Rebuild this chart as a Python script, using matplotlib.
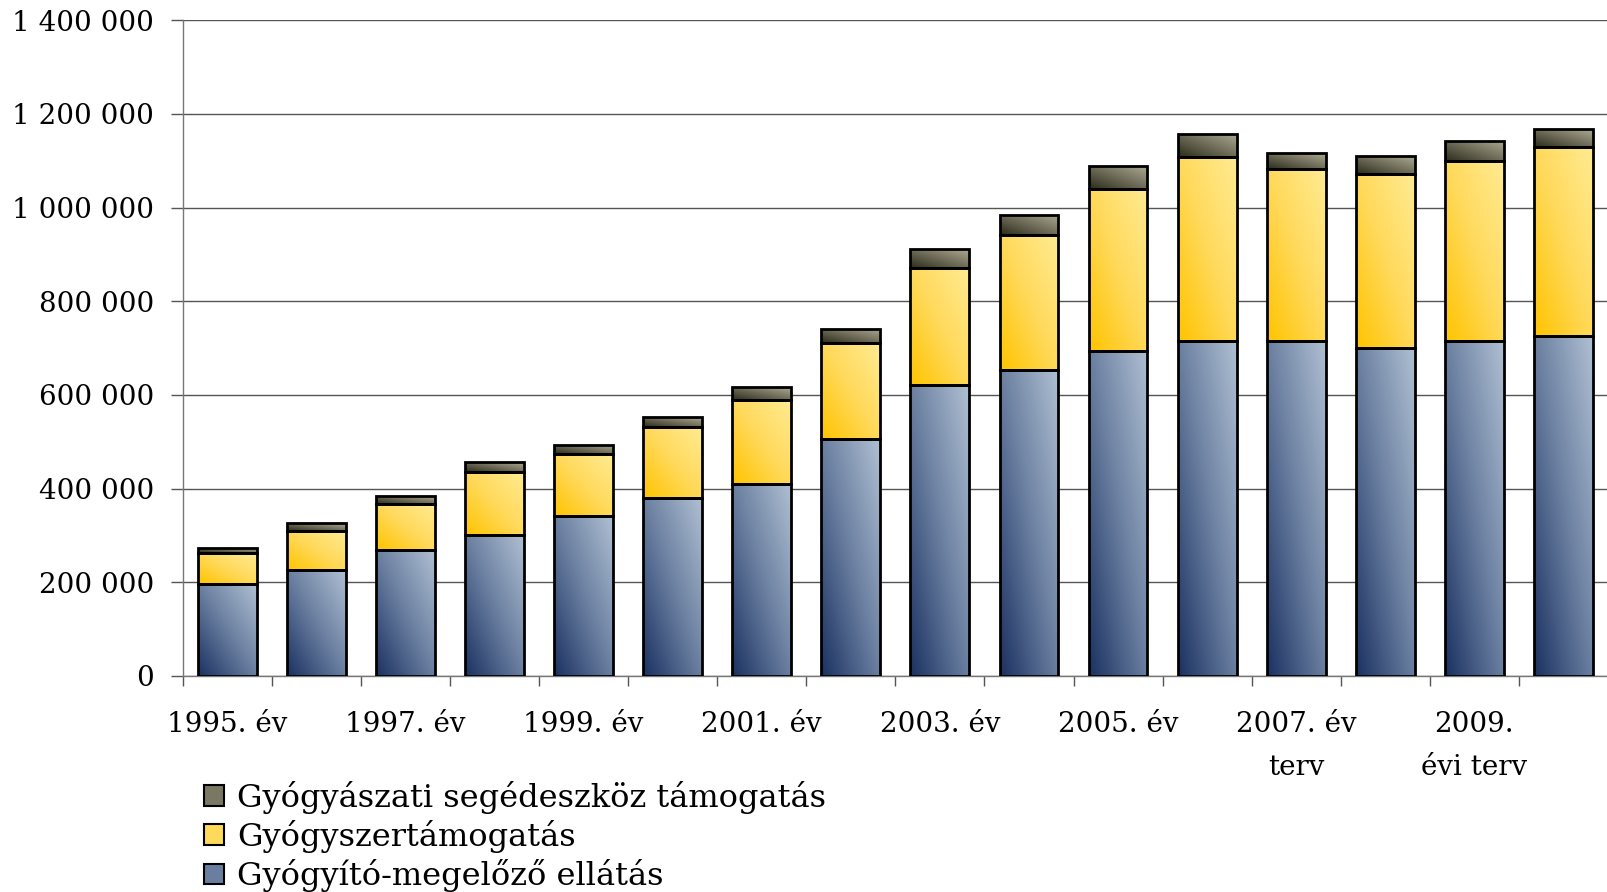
import numpy as np
import matplotlib
matplotlib.use("Agg")
import matplotlib.pyplot as plt
from matplotlib.colors import LinearSegmentedColormap
from matplotlib.patches import Patch

# data (thousand HUF -> stored as plain numbers)
categories = ["1995. év", "1996. év", "1997. év", "1998. év", "1999. év", "2000. év",
              "2001. év", "2002. év", "2003. év", "2004. év", "2005. év", "2006. év",
              "2007. év\nterv", "2008. év\nterv", "2009.\névi terv", "2010.\névi terv"]
ellatas = [196, 226, 268, 300, 342, 379, 410, 505, 621, 653, 694, 716, 716, 700, 716, 726]
gyogyszer = [67, 84, 99, 136, 131, 153, 179, 205, 251, 288, 346, 392, 367, 372, 383, 404]
segedeszkoz = [11, 16, 17, 21, 21, 20, 27, 31, 39, 43, 49, 50, 33, 38, 43, 38]
series_names = ["Gyógyító-megelőző ellátás", "Gyógyszertámogatás",
                "Gyógyászati segédeszköz támogatás"]
yticks = [0, 200000, 400000, 600000, 800000, 1000000, 1200000, 1400000]

plt.rcParams['font.family'] = ['DejaVu Serif']
plt.rcParams['font.size'] = 20

cmaps = [
    LinearSegmentedColormap.from_list("kek", ["#1b3262", "#6a7fa0", "#afbfd2"]),
    LinearSegmentedColormap.from_list("sarga", ["#ffc400", "#ffd95a", "#ffeb93"]),
    LinearSegmentedColormap.from_list("szurke", ["#2c2c1c", "#6e6c58", "#acaa92"]),
]
mid_colors = ["#6a7fa0", "#ffd95a", "#7a7862"]

fig = plt.figure(figsize=(16.08, 8.92), dpi=100)
ax = fig.add_axes([0.1136, 0.2422, 0.8864, 0.735])

x = np.arange(len(categories))
vals = [np.array(ellatas) * 1000, np.array(gyogyszer) * 1000, np.array(segedeszkoz) * 1000]

g = np.linspace(0, 1, 64)
grad = (g[None, :] + g[:, None]) / 2

bottom = np.zeros(len(x))
for v, cm in zip(vals, cmaps):
    bars = ax.bar(x, v, width=0.66, bottom=bottom, facecolor='none',
                  edgecolor='black', linewidth=2.0, zorder=3)
    for b in bars:
        bx, by = b.get_x(), b.get_y()
        im = ax.imshow(grad, extent=[bx, bx + b.get_width(), by, by + b.get_height()],
                       origin='lower', cmap=cm, aspect='auto', zorder=2,
                       interpolation='bilinear')
        im.set_clip_path(b)
    bottom = bottom + v

ax.set_xlim(-0.5, len(x) - 0.5)
ax.set_ylim(0, 1400000)

ax.set_yticks(yticks)
ax.set_yticklabels([f"{t:,}".replace(",", " ") for t in yticks], fontsize=20)
ax.tick_params(axis='y', length=8.5, width=1, color='#555555', pad=12)

ax.set_xticks(x)
ax.set_xticklabels([c if i % 2 == 0 else "" for i, c in enumerate(categories)],
                   linespacing=1.8, va='top')
ax.tick_params(axis='x', which='major', length=0, pad=25)
ax.set_xticks(np.arange(len(x) + 1) - 0.5, minor=True)
ax.tick_params(axis='x', which='minor', length=7, width=1, color='#555555')

ax.yaxis.grid(True, color='#555555', linewidth=1)
ax.set_axisbelow(True)
for s in ['top', 'right']:
    ax.spines[s].set_visible(False)
for s in ['left', 'bottom']:
    ax.spines[s].set_color('#777777')
    ax.spines[s].set_linewidth(1)

handles = [Patch(facecolor=mid_colors[i], edgecolor='black', linewidth=1.5,
                 label=series_names[i]) for i in [2, 1, 0]]
fig.legend(handles=handles, loc='upper left', bbox_to_anchor=(0.127, 0.125),
           frameon=False, fontsize=23, handlelength=0.62, handleheight=0.62,
           handletextpad=0.4, labelspacing=0.2, borderpad=0, borderaxespad=0)

fig.savefig("out.png", dpi=100)
